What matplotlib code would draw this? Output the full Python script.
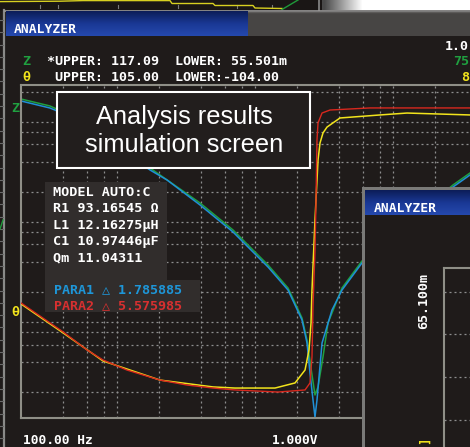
import numpy as np
import matplotlib
matplotlib.use("Agg")
import matplotlib.pyplot as plt
from matplotlib.patches import Rectangle
from matplotlib.colors import LinearSegmentedColormap
from matplotlib.ticker import NullLocator, FixedLocator

freq_min_hz = 100.0
freq_max_hz = 179300.0
z_upper, z_lower = 117.09, 0.055501
theta_upper, theta_lower = 105.0, -104.0

# |Z| traces (ohm) - measured (blue) and simulated (green)
z_blue_freq = [100, 162, 215, 281, 861, 1143, 1982, 3438, 6165, 8606, 10870, 11820,
               12420, 13060, 13500, 13960, 15180, 17930, 21190, 29580, 135000, 179300]
z_blue_ohm = [81.1, 69.0, 58.8, 48.9, 16.6, 13.19, 7.43, 3.99, 1.785, 1.052, 0.528, 0.311,
              0.156, 0.084, 0.0568, 0.084, 0.311, 0.664, 1.052, 1.958, 11.23, 14.80]
z_green_freq = [100, 162, 281, 861, 1982, 3438, 6165, 8606, 10870, 11820, 12630, 13500,
                14200, 15430, 16770, 21190, 29580, 135000, 179300]
z_green_ohm = [84.9, 72.3, 51.2, 17.38, 7.78, 4.18, 1.870, 1.102, 0.553, 0.333, 0.175, 0.0942,
               0.1132, 0.2256, 0.493, 1.102, 2.050, 11.76, 15.49]

# phase traces (deg) - measured (red) and simulated (yellow)
theta_red_freq = [100, 202, 301, 393, 586, 1017, 1595, 2462, 3554, 7283, 11430, 12420,
                  12840, 13060, 13500, 13730, 13960, 14200, 15180, 17340, 33810, 179300]
theta_red_deg = [-31.8, -50.0, -61.3, -67.6, -73.9, -80.2, -83.3, -85.2, -86.4, -87.7, -86.4, -82.0,
                 -65.7, -34.3, 1.4, 32.8, 70.5, 81.2, 87.4, 89.3, 90.6, 90.6]
theta_yel_freq = [100, 202, 393, 1017, 2462, 3554, 6928, 9672, 11430, 12220, 12630, 12840,
                  13500, 14200, 14680, 15430, 16500, 20490, 39940, 62690, 179300]
theta_yel_deg = [-32.4, -50.6, -68.2, -80.2, -84.5, -85.2, -85.2, -82.0, -73.9, -61.3, -44.4, -23.7,
                 20.3, 57.9, 68.6, 74.9, 78.6, 84.3, 86.2, 87.4, 86.2]

grid_freq = [200, 300, 400, 500, 1000, 2000, 3000, 4000, 5000,
             10000, 20000, 30000, 40000, 50000, 100000]
grid_z = [0.1, 0.2, 0.3, 0.4, 0.5, 1, 2, 3, 4, 5, 10, 20, 30, 40, 50, 100]

title_text = "ANALYZER"
header_z = "*UPPER: 117.09  LOWER: 55.501m"
header_theta = " UPPER: 105.00  LOWER:-104.00"
right_top = ["1.0", "75", "8"]
model_lines = ["MODEL AUTO:C", "R1 93.16545 \u03a9", "L1 12.16275\u03bcH",
               "C1 10.97446\u03bcF", "Qm 11.04311"]
para1_text = "PARA1 \u25b3 1.785885"
para2_text = "PARA2 \u25b3 5.575985"
caption_lines = ["Analysis results", "simulation screen"]
bottom_left = "100.00 Hz"
bottom_mid = "1.000V"
win2_value = "65.100m"
win2_unit = "]"

# ---------------- style ----------------
W, H = 470, 447
BG = "#1f1b1a"
BOX = "#312d2c"
GRID = "#8e8e8e"
FRAME = "#8f8f87"
C_BLUE = "#1f90d8"
C_GREEN = "#20a040"
C_RED = "#d8281e"
C_YEL = "#f2e41c"
MONO = dict(family=["DejaVu Sans Mono", "DejaVu Sans"], weight="bold")

fig = plt.figure(figsize=(W / 100, H / 100), dpi=100)
fig.patch.set_facecolor(BG)

# ---------- background layer (pixel coordinates) ----------
bg = fig.add_axes([0, 0, 1, 1], zorder=0)
bg.axis("off")
bg.set_facecolor(BG)
# window behind: top strip
bg.add_patch(Rectangle((0, 0), 322, 10.5, facecolor="#1a1615", edgecolor="none", zorder=1))
wgrad = np.clip((np.arange(148) - 2) / 38.0, 0, 1).reshape(1, -1)
bg.imshow(wgrad, cmap=LinearSegmentedColormap.from_list("w", ["#4a4a4a", "#ffffff"]),
          extent=(322, 470, 10.5, 0), aspect="auto", interpolation="bilinear", zorder=2)
bg.plot([318.5, 318.5], [0, 10.5], color="#8a8a8a", lw=1.2, zorder=3)
for tx in [40, 58, 118, 178, 237, 272]:
    bg.plot([tx, tx], [5, 7.5], color="#7a7a7a", lw=0.8, zorder=3)
bg.plot([0, 60, 83, 170, 172, 213, 215, 253, 255, 282], [1.6, 1.2, 0.6, 0.6, 3.5, 3.5, 5.5, 5.5, 8, 8.5],
        color="#d8d020", lw=1.0, zorder=3)
bg.plot([282, 298], [9.5, 0], color="#1f9a3a", lw=1.0, zorder=3)
# window behind: left strip
bg.plot([4.3, 4.3], [10, 447], color="#8a8a88", lw=1.6, zorder=3)
for ty in np.arange(20, 447, 12.3):
    bg.plot([0.3, 2.8], [ty, ty], color="#6a6a6a", lw=0.8, zorder=3)
bg.plot([0, 3], [229, 220], color="#1f9a3a", lw=1.0, zorder=3)
# main window frame + title bar
bg.add_patch(Rectangle((5.5, 10.5), 470, 440, facecolor=BG, edgecolor="none", zorder=4))
bg.plot([5, 470], [10.8, 10.8], color="#9a9a9a", lw=1.2, zorder=5)
bg.add_patch(Rectangle((248, 11.5), 222, 24.5, facecolor="#474544", edgecolor="none", zorder=5))
bg.plot([248, 470], [12.2, 12.2], color="#5c5a59", lw=1.0, zorder=6)
tgrad = np.linspace(0, 1, 60).reshape(-1, 1)
tb_cmap = LinearSegmentedColormap.from_list("tb", ["#0c1d58", "#1a3894", "#2549ae"])
bg.imshow(tgrad, cmap=tb_cmap, extent=(6, 248, 36, 11.5), aspect="auto",
          interpolation="bilinear", zorder=6)
bg.set_xlim(0, W)
bg.set_ylim(H, 0)

# ---------- main plot ----------
ax = fig.add_axes([21 / W, (H - 418) / H, 449 / W, 333 / H], zorder=2)
ax.set_facecolor("none")
ax.set_xscale("log")
ax.set_yscale("log")
ax.set_xlim(freq_min_hz, freq_max_hz)
ax.set_ylim(z_lower, z_upper)
ax.xaxis.set_major_locator(FixedLocator(grid_freq))
ax.yaxis.set_major_locator(FixedLocator(grid_z))
ax.xaxis.set_minor_locator(NullLocator())
ax.yaxis.set_minor_locator(NullLocator())
ax.tick_params(which="both", length=0, labelbottom=False, labelleft=False)
ax.grid(True, color=GRID, linestyle=(0, (1.6, 2.4)), linewidth=0.9)
for side in ["left", "top", "bottom"]:
    ax.spines[side].set_color(FRAME)
    ax.spines[side].set_linewidth(1.5)
ax.spines["right"].set_visible(False)
ax.plot(z_green_freq, z_green_ohm, color=C_GREEN, lw=1.1)
ax.plot(z_blue_freq, z_blue_ohm, color=C_BLUE, lw=1.1)

ax2 = ax.twinx()
ax2.set_zorder(3)
ax2.set_facecolor("none")
ax2.set_ylim(theta_lower, theta_upper)
ax2.yaxis.set_major_locator(NullLocator())
ax2.tick_params(which="both", length=0, labelright=False)
for s in ax2.spines.values():
    s.set_visible(False)
ax2.plot(theta_yel_freq, theta_yel_deg, color=C_YEL, lw=1.1)
ax2.plot(theta_red_freq, theta_red_deg, color=C_RED, lw=1.0)

# ---------- overlay (pixel coordinates) ----------
ov = fig.add_axes([0, 0, 1, 1], zorder=5)
ov.axis("off")
ov.set_facecolor("none")

ov.text(14, 33, title_text, color="white", fontsize=9.4, **MONO)
ov.text(22, 65, "Z", color=C_GREEN, fontsize=9.6, **MONO)
ov.text(47, 65, header_z, color="white", fontsize=9.6, **MONO)
ov.text(22, 81, "\u03b8", color=C_YEL, fontsize=9.6, **MONO)
ov.text(47, 81, header_theta, color="white", fontsize=9.6, **MONO)
ov.text(445, 50, right_top[0], color="white", fontsize=9.6, **MONO)
ov.text(453, 65, right_top[1], color=C_GREEN, fontsize=9.6, **MONO)
ov.text(461, 81, right_top[2], color=C_YEL, fontsize=9.6, **MONO)
ov.text(11, 112, "Z", color=C_GREEN, fontsize=9.6, **MONO)
ov.text(11, 316, "\u03b8", color=C_YEL, fontsize=9.6, **MONO)

# caption box
ov.add_patch(Rectangle((57, 92), 253, 76, facecolor="#221e1d", edgecolor="white", lw=1.5, zorder=2))
ov.text(184, 124, caption_lines[0], color="white", fontsize=18.3, family="Liberation Sans",
        ha="center", va="baseline", zorder=3)
ov.text(184, 152, caption_lines[1], color="white", fontsize=18.3, family="Liberation Sans",
        ha="center", va="baseline", zorder=3)

# model box
ov.add_patch(Rectangle((45, 182), 122, 98, facecolor=BOX, edgecolor="none", zorder=2))
ov.add_patch(Rectangle((45, 279.5), 155, 32.5, facecolor=BOX, edgecolor="none", zorder=2))
for i, line in enumerate(model_lines):
    ov.text(53, 196 + i * 16.3, line, color="white", fontsize=9.7, zorder=3, **MONO)
ov.text(54, 293, para1_text, color="#1e96d8", fontsize=9.6, zorder=3, **MONO)
ov.text(54, 309, para2_text, color="#d83030", fontsize=9.6, zorder=3, **MONO)

# bottom labels
ov.text(23, 444, bottom_left, color="white", fontsize=9.3, **MONO)
ov.text(272, 444, bottom_mid, color="white", fontsize=9.3, **MONO)

# second window
ov.add_patch(Rectangle((362, 187), 110, 262, facecolor=BG, edgecolor="none", zorder=4))
ov.add_patch(Rectangle((362, 187), 3, 262, facecolor="#7a7a78", edgecolor="none", zorder=5))
ov.add_patch(Rectangle((362, 187), 110, 3, facecolor="#7a7a78", edgecolor="none", zorder=5))
ov.imshow(tgrad, cmap=tb_cmap, extent=(365, 470, 215, 190), aspect="auto",
          interpolation="bilinear", zorder=5)
ov.text(374, 212, title_text, color="white", fontsize=9.4, zorder=6, **MONO)
ov.text(424, 301, win2_value, color="white", fontsize=9.6, rotation=90,
        ha="center", va="center", zorder=6, **MONO)
ov.text(424, 436, win2_unit, color=C_YEL, fontsize=9.0, rotation=90,
        ha="center", va="top", zorder=6, **MONO)
ov.plot([443.5, 443.5], [268, 447], color=FRAME, lw=1.5, zorder=6)
ov.plot([443.5, 470], [268, 268], color=FRAME, lw=1.5, zorder=6)
for gy in [292, 334, 377, 420]:
    ov.plot([444, 470], [gy, gy], color=GRID, lw=0.9, linestyle=(0, (1.6, 2.4)), zorder=6)

ov.set_xlim(0, W)
ov.set_ylim(H, 0)

fig.savefig("out.png", dpi=100, facecolor=BG)
